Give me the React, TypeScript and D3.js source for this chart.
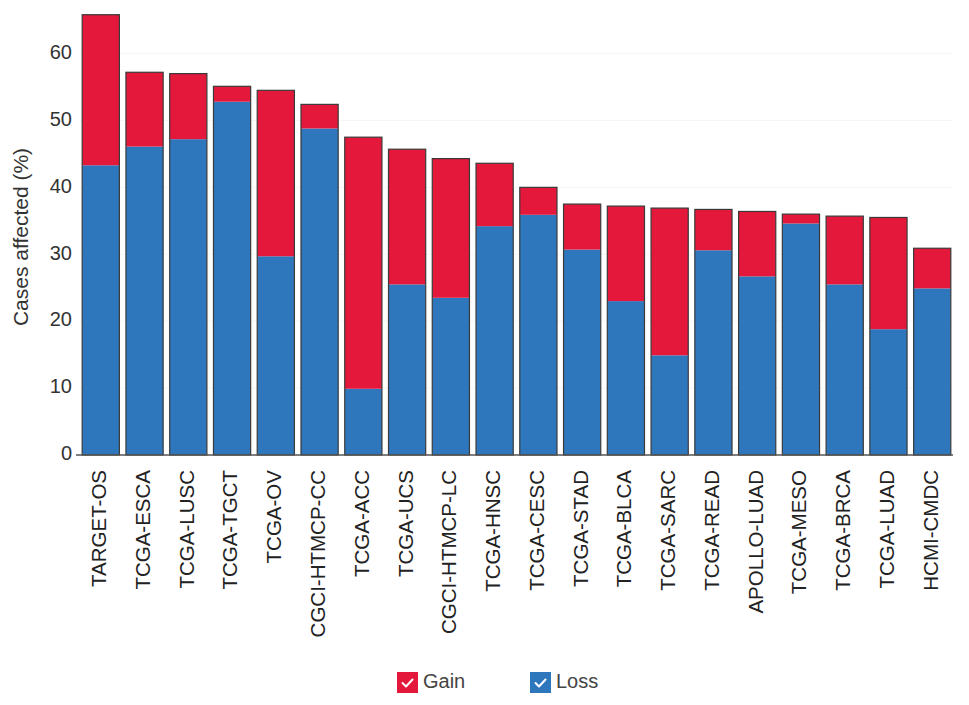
import React, { useMemo } from 'react';
import * as d3 from 'd3';

const CATEGORIES = [
  'TARGET-OS', 'TCGA-ESCA', 'TCGA-LUSC', 'TCGA-TGCT', 'TCGA-OV', 'CGCI-HTMCP-CC',
  'TCGA-ACC', 'TCGA-UCS', 'CGCI-HTMCP-LC', 'TCGA-HNSC', 'TCGA-CESC', 'TCGA-STAD',
  'TCGA-BLCA', 'TCGA-SARC', 'TCGA-READ', 'APOLLO-LUAD', 'TCGA-MESO', 'TCGA-BRCA',
  'TCGA-LUAD', 'HCMI-CMDC',
];

// loss is the bottom segment, gain stacks on top
const LOSS = [
  43.3, 46.1, 47.2, 52.8, 29.7, 48.8, 9.9, 25.5, 23.5, 34.2,
  35.9, 30.7, 23.0, 14.9, 30.6, 26.7, 34.6, 25.5, 18.8, 24.9,
];
const GAIN = [
  22.5, 11.1, 9.8, 2.3, 24.8, 3.6, 37.6, 20.2, 20.8, 9.4,
  4.1, 6.8, 14.2, 22.0, 6.1, 9.7, 1.4, 10.2, 16.7, 6.0,
];

const Y_TICKS = [0, 10, 20, 30, 40, 50, 60];

const SERIES = [
  { key: 'Gain', color: '#e3183a' },
  { key: 'Loss', color: '#2f77bd' },
];

const W = 969;
const H = 705;
const MARGIN = { top: 0, right: 16, bottom: 250, left: 80 };
const FONT = '"Liberation Sans", Arial, Helvetica, sans-serif';

export default function App() {
  const x = useMemo(
    () => d3.scaleBand<string>().domain(CATEGORIES).range([MARGIN.left, W - MARGIN.right]).paddingInner(0.15).paddingOuter(0.05),
    []
  );
  const y = useMemo(() => d3.scaleLinear().domain([0, 68]).range([H - MARGIN.bottom, 0]), []);

  const stacked = useMemo(() => {
    const rows = CATEGORIES.map((c, i) => ({ cat: c, Loss: LOSS[i], Gain: GAIN[i] }));
    return d3.stack<any>().keys(['Loss', 'Gain'])(rows);
  }, []);

  const colorOf = (k: string) => SERIES.find((s) => s.key === k)!.color;
  const base = y(0);

  return (
    <svg width={W} height={H} style={{ position: 'absolute', left: 0, top: 0, background: '#fff' }} fontFamily={FONT}>
      {/* faint grid */}
      {Y_TICKS.slice(1).map((t) => (
        <line key={t} x1={MARGIN.left} x2={W - MARGIN.right} y1={y(t)} y2={y(t)} stroke="#f6f6f6" />
      ))}

      {/* bars */}
      {stacked.map((layer) => (
        <g key={layer.key} fill={colorOf(layer.key)}>
          {layer.map((d, i) => (
            <rect
              key={i}
              x={x(CATEGORIES[i])!}
              y={y(d[1])}
              width={x.bandwidth()}
              height={y(d[0]) - y(d[1])}
            />
          ))}
        </g>
      ))}
      {/* bar outlines */}
      {CATEGORIES.map((c, i) => (
        <rect
          key={c}
          x={x(c)!}
          y={y(LOSS[i] + GAIN[i])}
          width={x.bandwidth()}
          height={base - y(LOSS[i] + GAIN[i])}
          fill="none"
          stroke="#3a3a3a"
          strokeWidth={1.2}
        />
      ))}

      {/* x axis line */}
      <line x1={MARGIN.left - 4} x2={W - MARGIN.right} y1={base} y2={base} stroke="#555" strokeWidth={1.5} />

      {/* y ticks */}
      {Y_TICKS.map((t) => (
        <text key={t} x={72} y={y(t)} textAnchor="end" dominantBaseline="middle" fontSize={20} fill="#333">
          {t}
        </text>
      ))}
      <text
        transform={`translate(22,237) rotate(-90)`}
        textAnchor="middle"
        dominantBaseline="middle"
        fontSize={21}
        fill="#333"
      >
        Cases affected (%)
      </text>

      {/* x labels */}
      {CATEGORIES.map((c) => (
        <text
          key={c}
          transform={`translate(${x(c)! + x.bandwidth() / 2},${base + 15}) rotate(-90)`}
          textAnchor="end"
          dominantBaseline="middle"
          fontSize={20.5}
          fill="#222"
        >
          {c}
        </text>
      ))}

      {/* legend */}
      {SERIES.map((s, i) => {
        const lx = 397 + i * 133;
        const ly = 672;
        return (
          <g key={s.key} transform={`translate(${lx},${ly})`}>
            <rect width={21} height={21} fill={s.color} />
            <path d="M5.5,11 L9,14.5 L15.5,7.5" fill="none" stroke="#fff" strokeWidth={2} strokeLinecap="round" strokeLinejoin="round" />
            <text x={26} y={11} dominantBaseline="middle" fontSize={20} fill="#444">
              {s.key}
            </text>
          </g>
        );
      })}
    </svg>
  );
}
